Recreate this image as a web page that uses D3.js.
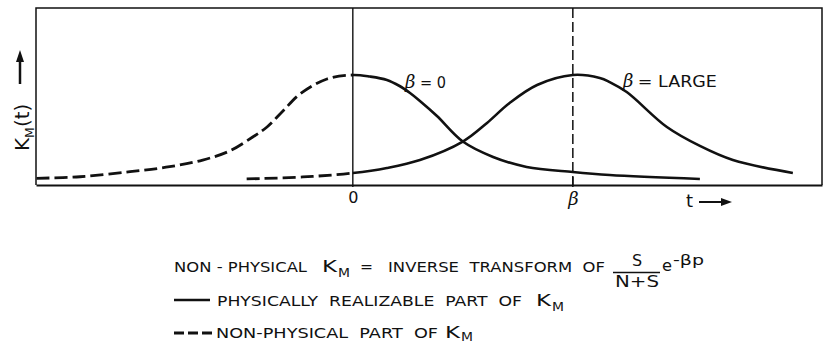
<!DOCTYPE html>
<html>
<head>
<meta charset="utf-8">
<script src="https://cdn.jsdelivr.net/npm/d3@7"></script>
<style>
  html, body { margin: 0; padding: 0; background: #fff; }
  svg { display: block; }
  text { font-family: "DejaVu Sans", "Liberation Sans", sans-serif; fill: #111; white-space: pre; }
</style>
</head>
<body>
<svg id="chart" width="826" height="344"></svg>
<script>
// Optimum filter impulse response K_M(t) for zero and large prediction time β.
// Each curve is [t, K] samples; the part at t < 0 is non-physical.
const beta = 4;
const tTicks = [0, beta];
const tickLabels = ["0", "β"];

const curveBetaZero = [
  [-5.75, 0.061], [-4.96, 0.075], [-4.05, 0.121], [-3.33, 0.166], [-2.73, 0.227],
  [-2.24, 0.309], [-1.82, 0.436], [-1.56, 0.527], [-1.27, 0.673], [-0.96, 0.827],
  [-0.47, 0.964], [0, 1.0], [0.31, 0.986], [0.62, 0.955], [0.85, 0.9],
  [1.04, 0.836], [1.22, 0.764], [1.53, 0.627], [2.0, 0.395], [2.55, 0.255],
  [3.16, 0.164], [4.0, 0.118], [4.67, 0.091], [6.31, 0.055]
];

const curveBetaLarge = [
  [-1.93, 0.055], [-0.91, 0.073], [0, 0.109], [0.62, 0.155], [1.22, 0.227],
  [2.0, 0.395], [2.44, 0.564], [2.85, 0.745], [3.35, 0.909], [4.0, 1.0],
  [4.49, 0.973], [4.67, 0.936], [4.98, 0.845], [5.71, 0.527], [6.31, 0.355],
  [6.91, 0.227], [8.0, 0.109]
];

const curveLabels = [
  { t: 0.95, k: 0.88, main: "β", rest: "= 0", restLen: 26 },
  { t: 4.91, k: 0.89, main: "β", rest: "= LARGE", restLen: 79 }
];

const svg = d3.select("#chart");
const ink = "#111";

const x = d3.scaleLinear().domain([-5.76, 8.53]).range([36, 822]);
const y = d3.scaleLinear().domain([0, 1]).range([185, 75]);
const frameTop = 8, frameBottom = 185;

// frame
svg.append("path")
  .attr("d", `M${x.range()[0]},${frameBottom} V${frameTop} H${x.range()[1]} V${frameBottom}`)
  .attr("fill", "none").attr("stroke", ink).attr("stroke-width", 1.5);

// time axis
const axis = svg.append("g")
  .attr("transform", `translate(0,${frameBottom})`)
  .call(d3.axisBottom(x).tickValues(tTicks).tickSize(0).tickPadding(7)
    .tickFormat((d, i) => tickLabels[i]));
axis.select(".domain").attr("stroke", ink).attr("stroke-width", 2.2);
axis.selectAll(".tick text")
  .attr("fill", ink)
  .style("font-size", (d, i) => i === 0 ? "16px" : "18px")
  .style("font-family", (d, i) => i === 0 ? "DejaVu Sans" : "DejaVu Serif")
  .style("font-style", (d, i) => i === 0 ? "normal" : "italic");

// reference lines at t = 0 and t = β
svg.append("line")
  .attr("x1", x(0)).attr("x2", x(0)).attr("y1", frameTop).attr("y2", frameBottom + 2)
  .attr("stroke", ink).attr("stroke-width", 1.4);
svg.append("line")
  .attr("x1", x(beta)).attr("x2", x(beta)).attr("y1", frameTop).attr("y2", frameBottom)
  .attr("stroke", ink).attr("stroke-width", 1.5).attr("stroke-dasharray", "10,4");
svg.append("line")
  .attr("x1", x(beta)).attr("x2", x(beta)).attr("y1", frameBottom - 8).attr("y2", frameBottom + 2)
  .attr("stroke", ink).attr("stroke-width", 1.5);

// clip regions: non-physical (t < 0) and physically realizable (t >= 0)
const defs = svg.append("defs");
defs.append("clipPath").attr("id", "nonphys").append("rect")
  .attr("x", 0).attr("y", 0).attr("width", x(0)).attr("height", 344);
defs.append("clipPath").attr("id", "phys").append("rect")
  .attr("x", x(0)).attr("y", 0).attr("width", 826 - x(0)).attr("height", 344);

const line = d3.line()
  .x(d => x(d[0])).y(d => y(d[1]))
  .curve(d3.curveCatmullRom.alpha(0.5));

[curveBetaZero, curveBetaLarge].forEach(c => {
  svg.append("path").datum(c)
    .attr("d", line).attr("fill", "none").attr("stroke", ink)
    .attr("stroke-width", 2.8).attr("stroke-dasharray", "13,5")
    .attr("clip-path", "url(#nonphys)");
  svg.append("path").datum(c)
    .attr("d", line).attr("fill", "none").attr("stroke", ink)
    .attr("stroke-width", 2.6)
    .attr("clip-path", "url(#phys)");
});

// curve labels
curveLabels.forEach(l => {
  svg.append("text").attr("x", x(l.t)).attr("y", y(l.k)).text(l.main)
    .style("font-family", "DejaVu Serif").style("font-style", "italic").style("font-size", "18px");
  svg.append("text").attr("x", x(l.t) + 15).attr("y", y(l.k)).text(l.rest)
    .style("font-size", "15px")
    .attr("textLength", l.restLen).attr("lengthAdjust", "spacingAndGlyphs");
});

// t-axis arrow label
svg.append("text").attr("x", 686).attr("y", 207).text("t").style("font-size", "18px");
svg.append("line").attr("x1", 699).attr("x2", 724).attr("y1", 202).attr("y2", 202)
  .attr("stroke", ink).attr("stroke-width", 2);
svg.append("path").attr("d", "M732,202 L721,198 L721,206 Z").attr("fill", ink);

// vertical axis label K_M(t) with arrow
const yl = svg.append("g").attr("transform", "translate(29,151) rotate(-90)");
const ylt = yl.append("text").attr("x", 0).attr("y", 0).style("font-size", "20px");
ylt.append("tspan").text("K");
ylt.append("tspan").text("M").attr("dy", 5).style("font-size", "12.5px");
ylt.append("tspan").text("(t)").attr("dy", -5);
svg.append("line").attr("x1", 20).attr("x2", 20).attr("y1", 84).attr("y2", 60)
  .attr("stroke", ink).attr("stroke-width", 2.5);
svg.append("path").attr("d", "M20,50 L16,62 L24,62 Z").attr("fill", ink);

// legend / caption
const fs = "14.5px";
function txt(str, x0, yb, len, size) {
  const t = svg.append("text").attr("x", x0).attr("y", yb).text(str)
    .style("font-size", size || fs);
  if (len) t.attr("textLength", len).attr("lengthAdjust", "spacingAndGlyphs");
  return t;
}
function km(x0, yb, drop) {
  txt("K", x0, yb, 15, "16px");
  txt("M", x0 + 16, yb + drop, 12, "12px");
}

// line 1
txt("NON - PHYSICAL", 174, 272, 133);
km(322, 272, 5);
txt("=", 360, 272, 13);
txt("INVERSE  TRANSFORM  OF", 388, 272, 217);
txt("S", 637, 266, null, "16px").attr("text-anchor", "middle");
svg.append("line").attr("x1", 613).attr("x2", 660).attr("y1", 272.5).attr("y2", 272.5)
  .attr("stroke", ink).attr("stroke-width", 1.3);
txt("N+S", 637, 287, 44, "16px").attr("text-anchor", "middle");
txt("e", 662, 271, 10, "15px");
txt("-βp", 673, 265, 31, "13.5px");

// line 2
svg.append("line").attr("x1", 174).attr("x2", 210).attr("y1", 300).attr("y2", 300)
  .attr("stroke", ink).attr("stroke-width", 2.6);
txt("PHYSICALLY  REALIZABLE  PART  OF", 217, 306, 305);
km(536, 306, 5);

// line 3
svg.append("line").attr("x1", 174).attr("x2", 212).attr("y1", 333).attr("y2", 333)
  .attr("stroke", ink).attr("stroke-width", 2.8).attr("stroke-dasharray", "10,4");
txt("NON-PHYSICAL  PART  OF", 216, 338, 222);
km(445, 338, 3);
</script>
</body>
</html>
